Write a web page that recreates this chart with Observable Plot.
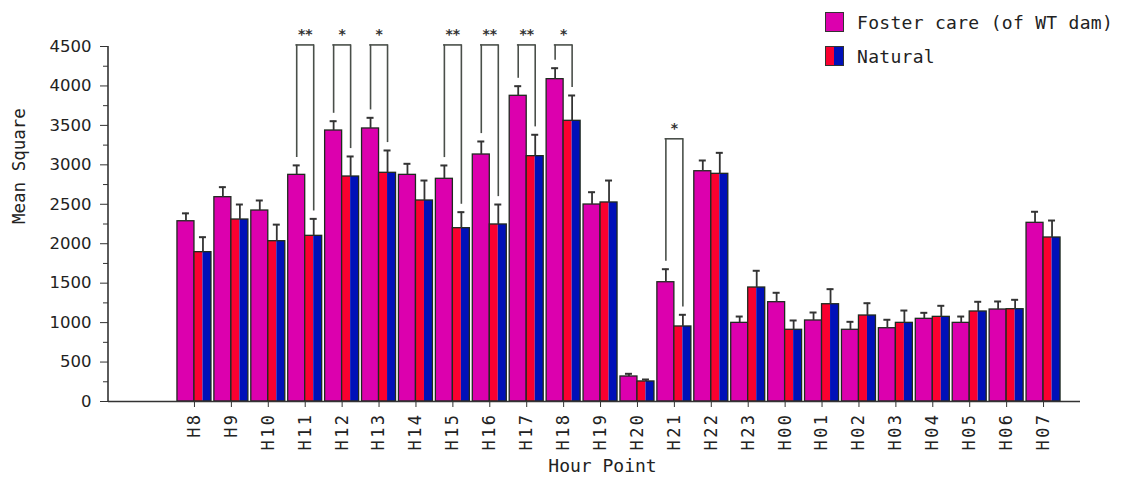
<!DOCTYPE html>
<html><head><meta charset="utf-8">
<script src="https://cdn.jsdelivr.net/npm/d3@7"></script>
<script src="https://cdn.jsdelivr.net/npm/@observablehq/plot@0.6"></script>
<style>
body{margin:0;background:#fff;}
#wrap{position:relative;width:1125px;height:483px;}
#legend{position:absolute;left:825px;top:5px;font-family:"DejaVu Sans Mono",monospace;font-size:18px;letter-spacing:0.3px;color:#222;}
.row{display:flex;align-items:center;height:34px;}
.sw{width:17px;height:18px;border:1.5px solid #333;margin-right:13px;}
g[aria-label="x-axis tick label"] text{letter-spacing:2.4px;}
</style></head><body>
<div id="wrap"><div id="chart"></div><div id="legend"></div></div>
<script>
const hours = ["H8","H9","H10","H11","H12","H13","H14","H15","H16","H17","H18","H19","H20","H21","H22","H23","H00","H01","H02","H03","H04","H05","H06","H07"];
const foster     = [2285,2590,2421,2873,3435,3461,2873,2823,3131,3875,4086,2497,317,1512,2919,997,1259,1027,909,929,1048,997,1166,2265];
const fosterErr  = [100,127,127,120,118,135,140,169,165,122,139,156,34,165,136,80,119,101,101,107,76,80,102,140];
const natural    = [1893,2307,2032,2100,2852,2899,2548,2197,2244,3110,3558,2523,254,951,2886,1445,909,1233,1090,997,1073,1141,1170,2079];
const naturalErr = [190,190,210,215,254,283,253,203,253,271,321,278,25,148,266,212,118,191,156,156,140,123,119,215];
const sigHours  = ["H11","H12","H13","H15","H16","H17","H18","H21"];
const sigLabels = ["**","*","*","**","**","**","*","*"];
const sigLevels = [4520,4520,4520,4520,4520,4520,4520,3330];
const yTicks = [0,500,1000,1500,2000,2500,3000,3500,4000,4500];
const yMinorTicks = [250,750,1250,1750,2250,2750,3250,3750,4250];
const seriesNames = ["Foster care (of WT dam)","Natural"];
const yTitle = "Mean Square", xTitle = "Hour Point";

const C = {foster:"#DC00AE", red:"#FA0030", blue:"#0010B8", edge:"#1f2a1f"};

const rows = hours.map((h,i)=>({hour:h, foster:foster[i], fTop:foster[i]+fosterErr[i], natural:natural[i], nTop:natural[i]+naturalErr[i]}));
const sig = sigHours.map((h,i)=>{
  const r = rows[hours.indexOf(h)];
  return {hour:h, label:sigLabels[i], level:sigLevels[i], fEnd:r.fTop+100, nEnd:r.nTop+100};
});

const BW = 886/24, half = BW/2, bar = 17, sub = bar/2;

const yAxisLine = (index, scales, values, dims) => {
  return d3.create("svg:line")
    .attr("x1", dims.marginLeft).attr("x2", dims.marginLeft)
    .attr("y1", scales.y(0)).attr("y2", scales.y(4500))
    .attr("stroke", "#333").attr("stroke-width", 1.6).node();
};

const chart = Plot.plot({
  width: 1125, height: 483,
  marginLeft: 108, marginRight: 45, marginTop: 46, marginBottom: 82,
  style: {fontFamily: "DejaVu Sans Mono, monospace", fontSize: "17px", color: "#222", background: "#fff"},
  x: {type: "band", domain: hours, range: [175.5, 1061.5], padding: 0, round: false},
  y: {domain: [0, 4500]},
  marks: [
    // bars
    Plot.barY(rows, {x:"hour", y:"foster", fill:C.foster, stroke:C.edge, strokeWidth:1.3, insetLeft: half-bar, insetRight: half}),
    Plot.barY(rows, {x:"hour", y:"natural", fill:C.red, insetLeft: half, insetRight: half-sub}),
    Plot.barY(rows, {x:"hour", y:"natural", fill:C.blue, insetLeft: half+sub, insetRight: half-bar}),
    Plot.barY(rows, {x:"hour", y:"natural", fill:"none", stroke:C.edge, strokeWidth:1.3, insetLeft: half, insetRight: half-bar}),
    // error bars
    Plot.ruleX(rows, {x:"hour", y1:"foster", y2:"fTop", dx:-sub, stroke:"#333", strokeWidth:1.8}),
    Plot.tickY(rows, {x:"hour", y:"fTop", dx:-sub, stroke:"#333", strokeWidth:2, insetLeft: half-3.5, insetRight: half-3.5}),
    Plot.ruleX(rows, {x:"hour", y1:"natural", y2:"nTop", dx:sub, stroke:"#333", strokeWidth:1.8}),
    Plot.tickY(rows, {x:"hour", y:"nTop", dx:sub, stroke:"#333", strokeWidth:2, insetLeft: half-3.5, insetRight: half-3.5}),
    // significance brackets
    Plot.ruleX(sig, {x:"hour", y1:"fEnd", y2:"level", dx:-sub, stroke:"#4a4f4a", strokeWidth:1.6}),
    Plot.ruleX(sig, {x:"hour", y1:"nEnd", y2:"level", dx:sub, stroke:"#4a4f4a", strokeWidth:1.6}),
    Plot.tickY(sig, {x:"hour", y:"level", stroke:"#4a4f4a", strokeWidth:1.6, insetLeft: half-sub-0.8, insetRight: half-sub-0.8}),
    Plot.text(sig, {x:"hour", y:"level", text:"label", dy:-10, fontSize:14, fontWeight:"bold", fill:"#333", fontFamily:"DejaVu Sans"}),
    // axes
    Plot.ruleY([0], {stroke:"#333", strokeWidth:1.6}),
    yAxisLine,
    Plot.axisY({ticks: yTicks, tickSize: 8, tickPadding: 9, tickFormat: d3.format("d"), fontFamily: "DejaVu Sans", fontSize: 16.5, label: null, stroke:"#333"}),
    Plot.axisY({ticks: yMinorTicks, tickSize: 5, tickFormat: () => "", label: null, stroke:"#333"}),
    Plot.axisX({tickRotate: -90, tickSize: 6, tickPadding: 5, fontSize: 17, label: null, stroke:"#333"}),
    Plot.text([yTitle], {frameAnchor: "left", rotate: -90, dx: -89, fontSize: 17.5, fill: "#222"}),
    Plot.text([xTitle], {frameAnchor: "bottom", dy: 70, dx: 8, fontSize: 18, fill: "#222"})
  ]
});
document.getElementById("chart").appendChild(chart);

const legend = document.getElementById("legend");
const swatches = [C.foster, `linear-gradient(to right, ${C.red} 50%, ${C.blue} 50%)`];
seriesNames.forEach((n,i)=>{
  const row = document.createElement("div"); row.className = "row";
  const sw = document.createElement("div"); sw.className = "sw"; sw.style.background = swatches[i];
  const t = document.createElement("span"); t.textContent = n;
  row.appendChild(sw); row.appendChild(t); legend.appendChild(row);
});
</script>
</body></html>
